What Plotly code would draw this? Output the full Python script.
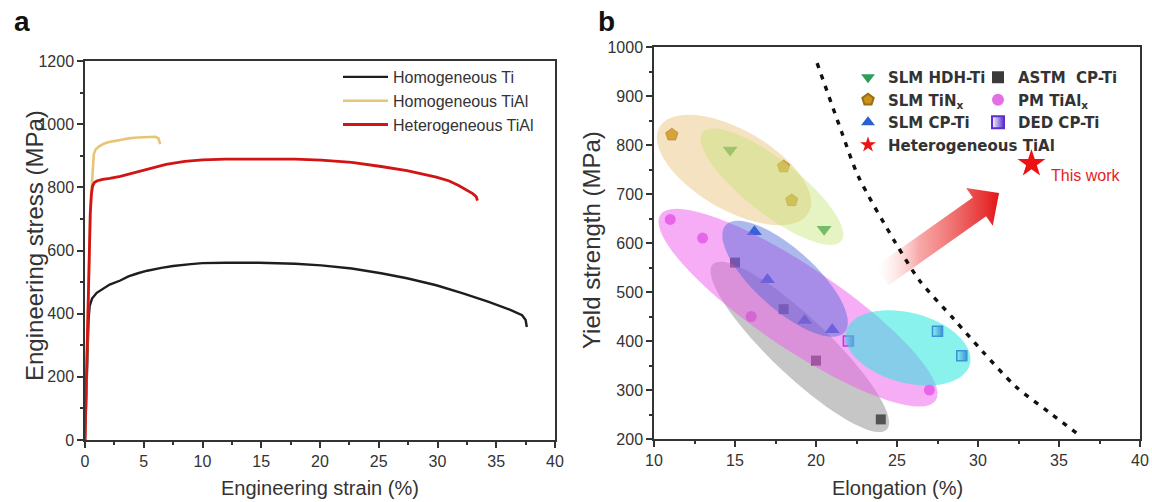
import math
import plotly.graph_objects as go

# ---------------- Panel a: engineering stress-strain curves ----------------
ti_strain = [0, 0.1, 0.2, 0.3, 0.4, 0.6, 1.0, 1.5, 2.1, 3.0, 3.7, 4.5, 5.3, 6.5, 7.5, 9.0,
             10.0, 12.0, 14.8, 17.9, 20.1, 22.7, 25.2, 27.4, 29.9, 32.1, 34.3, 36.2, 37.2, 37.5, 37.6]
ti_stress = [0, 130, 260, 380, 425, 448, 466, 478, 492, 505, 518, 528, 536, 545, 551, 557,
             560, 561, 561, 558, 553, 543, 528, 512, 490, 465, 438, 412, 395, 380, 358]

tial_hom_strain = [0, 0.15, 0.3, 0.45, 0.55, 0.65, 0.75, 0.9, 1.2, 1.6, 2.1, 3.0, 3.7, 4.5,
                   5.3, 6.0, 6.25, 6.35, 6.4]
tial_hom_stress = [0, 250, 500, 720, 790, 860, 905, 920, 930, 938, 944, 950, 955, 958,
                   960, 960, 955, 945, 937]

tial_het_strain = [0, 0.15, 0.3, 0.45, 0.55, 0.65, 0.8, 1.0, 1.5, 2.1, 3.0, 3.7, 4.5, 5.3,
                   6.1, 6.9, 8.5, 10.0, 12.0, 14.8, 17.9, 20.1, 22.7, 25.2, 27.4, 29.9, 31.0,
                   31.8, 32.5, 33.0, 33.3, 33.4]
tial_het_stress = [0, 250, 500, 720, 780, 805, 815, 820, 825, 828, 835, 842, 850, 858,
                   866, 873, 882, 887, 889, 890, 889, 886, 879, 866, 853, 832, 820,
                   806, 792, 780, 770, 758]

# ---------------- Panel b: yield strength vs elongation ----------------
hdh_elong = [14.7, 20.5]
hdh_ys = [790, 628]

tin_elong = [11.1, 18.0, 18.5]
tin_ys = [821, 756, 687]

slm_cp_elong = [16.2, 17.0, 19.3, 21.0]
slm_cp_ys = [623, 525, 442, 423]

astm_elong = [15.0, 18.0, 20.0, 24.0]
astm_ys = [560, 465, 360, 240]

pm_elong = [11.0, 13.0, 16.0, 27.0]
pm_ys = [648, 610, 450, 300]

ded_elong = [22.0, 27.5, 29.0]
ded_ys = [400, 420, 370]

het_elong = [33.3]
het_ys = [762]

# Strength-ductility trade-off boundary
bound_elong = [20.07, 21.6, 22.6, 24.9, 26.4, 28.5, 30.3, 32.3, 34.4, 36.3]
bound_ys = [967, 825, 737, 601, 523, 445, 378, 308, 254, 207]

W, H = 1152, 502
FONT = "Liberation Sans, Arial, sans-serif"
AX_COL = "#333333"

# axes placement (pixels)
A_L, A_R, A_T, A_B = 85, 555, 61, 440
B_L, B_R, B_T, B_B = 654, 1140, 47, 439
BX_RANGE = [10, 40]
BY_RANGE = [200, 1000]
SX = (B_R - B_L) / (BX_RANGE[1] - BX_RANGE[0])   # px per % elongation
SY = (B_B - B_T) / (BY_RANGE[1] - BY_RANGE[0])   # px per MPa

fig = go.Figure()

# --- panel a curves
fig.add_trace(go.Scatter(x=ti_strain, y=ti_stress, mode="lines", name="Homogeneous Ti",
                         line=dict(color="#1e1e1e", width=2.4), xaxis="x", yaxis="y",
                         legend="legend"))
fig.add_trace(go.Scatter(x=tial_hom_strain, y=tial_hom_stress, mode="lines",
                         name="Homogeneous TiAl", line=dict(color="#e6c676", width=2.6),
                         xaxis="x", yaxis="y", legend="legend"))
fig.add_trace(go.Scatter(x=tial_het_strain, y=tial_het_stress, mode="lines",
                         name="Heterogeneous TiAl", line=dict(color="#d21414", width=2.8),
                         xaxis="x", yaxis="y", legend="legend"))

# --- panel b: gradient arrow (built in screen space, mapped to data units)
def arrow_polygon(tail, tip, shaft_hw=11.5, head_hw=23, head_len=24):
    tx, ty = tail[0] * SX, -tail[1] * SY
    px, py = tip[0] * SX, -tip[1] * SY
    L = math.hypot(px - tx, py - ty)
    ux, uy = (px - tx) / L, (py - ty) / L
    nx, ny = -uy, ux
    hx, hy = px - ux * head_len, py - uy * head_len
    pts = [
        (tx + nx * shaft_hw, ty + ny * shaft_hw),
        (hx + nx * shaft_hw, hy + ny * shaft_hw),
        (hx + nx * head_hw, hy + ny * head_hw),
        (px, py),
        (hx - nx * head_hw, hy - ny * head_hw),
        (hx - nx * shaft_hw, hy - ny * shaft_hw),
        (tx - nx * shaft_hw, ty - ny * shaft_hw),
        (tx + nx * shaft_hw, ty + ny * shaft_hw),
    ]
    return [p[0] / SX for p in pts], [-p[1] / SY for p in pts]

arrow_tail = (24.07, 533)
arrow_tip = (31.3, 702)
ax_, ay_ = arrow_polygon(arrow_tail, arrow_tip)
fig.add_trace(go.Scatter(
    x=ax_, y=ay_, mode="lines", fill="toself", line=dict(width=0, color="rgba(0,0,0,0)"),
    fillgradient=dict(type="horizontal",
                      colorscale=[[0, "rgba(255,235,235,0.0)"],
                                  [0.35, "rgba(246,140,140,0.75)"],
                                  [1, "rgba(226,22,22,1)"]]),
    hoverinfo="skip", showlegend=False, xaxis="x2", yaxis="y2"))

# --- boundary line
fig.add_trace(go.Scatter(x=bound_elong, y=bound_ys, mode="lines",
                         line=dict(color="#111111", width=3.4, dash="5px,7px", shape="spline",
                                   smoothing=0.8),
                         hoverinfo="skip", showlegend=False, xaxis="x2", yaxis="y2"))

# --- scatter groups (first legend column)
fig.add_trace(go.Scatter(x=hdh_elong, y=hdh_ys, mode="markers", name="SLM HDH-Ti",
                         marker=dict(symbol="triangle-down", size=13, color="#2f9c5c"),
                         xaxis="x2", yaxis="y2", legend="legend2"))
fig.add_trace(go.Scatter(x=tin_elong, y=tin_ys, mode="markers", name="SLM TiN<sub>x</sub>",
                         marker=dict(symbol="pentagon", size=13, color="#c8921c",
                                     line=dict(color="#9c6e10", width=0.8)),
                         xaxis="x2", yaxis="y2", legend="legend2"))
fig.add_trace(go.Scatter(x=slm_cp_elong, y=slm_cp_ys, mode="markers", name="SLM CP-Ti",
                         marker=dict(symbol="triangle-up", size=13, color="#2a5fd6"),
                         xaxis="x2", yaxis="y2", legend="legend2"))
fig.add_trace(go.Scatter(x=het_elong, y=het_ys, mode="markers", name="Heterogeneous TiAl",
                         marker=dict(symbol="star", size=21, color="#ee1111"),
                         xaxis="x2", yaxis="y2", legend="legend2"))

# --- scatter groups (second legend column)
fig.add_trace(go.Scatter(x=astm_elong, y=astm_ys, mode="markers", name="ASTM  CP-Ti",
                         marker=dict(symbol="square", size=10, color="#3a3a3a"),
                         xaxis="x2", yaxis="y2", legend="legend3"))
fig.add_trace(go.Scatter(x=pm_elong, y=pm_ys, mode="markers", name="PM TiAl<sub>x</sub>",
                         marker=dict(symbol="circle", size=11, color="#e36ee6"),
                         xaxis="x2", yaxis="y2", legend="legend3"))
fig.add_trace(go.Scatter(x=ded_elong, y=ded_ys, mode="markers", name="DED CP-Ti",
                         marker=dict(symbol="square", size=10, color="white",
                                     gradient=dict(type="horizontal", color="#5a2ed0"),
                                     line=dict(color="#5a2ed0", width=1.6)),
                         xaxis="x2", yaxis="y2", legend="legend3"))

# --- translucent group envelopes (rotated ellipses, screen-space sizes)
def ellipse_path(cx, cy, a_px, b_px, angle_deg, n=72):
    th = math.radians(angle_deg)
    pts = []
    for k in range(n):
        phi = 2 * math.pi * k / n
        dx = a_px * math.cos(phi) * math.cos(th) - b_px * math.sin(phi) * math.sin(th)
        dy = a_px * math.cos(phi) * math.sin(th) + b_px * math.sin(phi) * math.cos(th)
        pts.append((cx + dx / SX, cy - dy / SY))
    return "M " + " L ".join(f"{x:.4f},{y:.3f}" for x, y in pts) + " Z"

envelopes = [
    # (center elong, center ys, semi-major px, semi-minor px, tilt deg, fill)
    (19.0, 388, 120, 29, 43.5, "rgba(120,120,120,0.42)"),
    (18.89, 468, 166, 41, 34, "rgba(238,92,238,0.50)"),
    (18.09, 527, 80, 30, 42, "rgba(70,100,215,0.45)"),
    (25.68, 386, 64, 35, 15, "rgba(40,232,220,0.55)"),
    (14.94, 749, 86, 40, 30, "rgba(232,186,104,0.42)"),
    (17.28, 715, 88, 27, 38, "rgba(200,228,120,0.45)"),
]
shapes = []
for cx, cy, a_px, b_px, ang, col in envelopes:
    shapes.append(dict(type="path", path=ellipse_path(cx, cy, a_px, b_px, ang),
                       xref="x2", yref="y2", fillcolor=col, line=dict(width=0),
                       layer="above"))

def axis_common(**kw):
    d = dict(showline=True, linecolor=AX_COL, linewidth=1.5, mirror=True,
             ticks="outside", ticklen=6, tickwidth=1.5, tickcolor=AX_COL,
             showgrid=False, zeroline=False, automargin=False,
             tickfont=dict(family=FONT, size=16, color=AX_COL))
    d.update(kw)
    return d

minor = dict(ticks="outside", ticklen=3, tickwidth=1.5, tickcolor=AX_COL, showgrid=False)

legend_font_b = dict(family="DejaVu Sans", size=15, color=AX_COL, weight="bold")

fig.update_layout(
    template="none",
    width=W, height=H,
    margin=dict(l=0, r=0, t=0, b=0, pad=0, autoexpand=False),
    paper_bgcolor="white", plot_bgcolor="white",
    font=dict(family=FONT, color=AX_COL),
    xaxis=axis_common(domain=[A_L / W, A_R / W], range=[0, 40], dtick=5, tick0=0,
                      anchor="y", minor=dict(dtick=2.5, **minor)),
    yaxis=axis_common(domain=[1 - A_B / H, 1 - A_T / H], range=[0, 1200], dtick=200,
                      tick0=0, anchor="x", minor=dict(dtick=100, **minor)),
    xaxis2=axis_common(domain=[B_L / W, B_R / W], range=BX_RANGE, dtick=5, tick0=10,
                       anchor="y2", minor=dict(dtick=2.5, **minor)),
    yaxis2=axis_common(domain=[1 - B_B / H, 1 - B_T / H], range=BY_RANGE, dtick=100,
                       tick0=200, anchor="x2", minor=dict(dtick=50, **minor)),
    legend=dict(x=338 / W, y=1 - 60 / H, xanchor="left", yanchor="top",
                bgcolor="rgba(0,0,0,0)", itemwidth=45, tracegroupgap=0,
                font=dict(family=FONT, size=16, color=AX_COL)),
    legend2=dict(x=848 / W, y=1 - 61 / H, xanchor="left", yanchor="top",
                 bgcolor="rgba(0,0,0,0)", itemwidth=30, itemsizing="constant",
                 font=legend_font_b),
    legend3=dict(x=978 / W, y=1 - 61 / H, xanchor="left", yanchor="top",
                 bgcolor="rgba(0,0,0,0)", itemwidth=30, itemsizing="constant",
                 font=legend_font_b),
    shapes=shapes,
    showlegend=True,
)

annotations = [
    dict(text="a", x=12 / W, y=1 - 22 / H, xref="paper", yref="paper", xanchor="left",
         yanchor="middle", showarrow=False,
         font=dict(family=FONT, size=28, color="#111111", weight="bold")),
    dict(text="b", x=596 / W, y=1 - 22 / H, xref="paper", yref="paper", xanchor="left",
         yanchor="middle", showarrow=False,
         font=dict(family=FONT, size=28, color="#111111", weight="bold")),
    dict(text="Engineering strain (%)", x=(A_L + A_R) / 2 / W, y=1 - 488 / H, xref="paper",
         yref="paper", xanchor="center", yanchor="middle", showarrow=False,
         font=dict(family=FONT, size=20, color=AX_COL)),
    dict(text="Engineering stress (MPa)", x=34 / W, y=1 - 246 / H, xref="paper",
         yref="paper", xanchor="center", yanchor="middle", showarrow=False, textangle=-90,
         font=dict(family=FONT, size=24, color=AX_COL)),
    dict(text="Elongation (%)", x=(B_L + B_R) / 2 / W, y=1 - 488 / H, xref="paper",
         yref="paper", xanchor="center", yanchor="middle", showarrow=False,
         font=dict(family=FONT, size=20, color=AX_COL)),
    dict(text="Yield strength (MPa)", x=591 / W, y=1 - 240 / H, xref="paper",
         yref="paper", xanchor="center", yanchor="middle", showarrow=False, textangle=-90,
         font=dict(family=FONT, size=24, color=AX_COL)),
    dict(text="This work", x=34.4, y=738, xref="x2", yref="y2", xanchor="left",
         yanchor="middle", showarrow=False,
         font=dict(family=FONT, size=16, color="#e02424")),
]
fig.update_layout(annotations=annotations)

fig.write_html("out.html")
